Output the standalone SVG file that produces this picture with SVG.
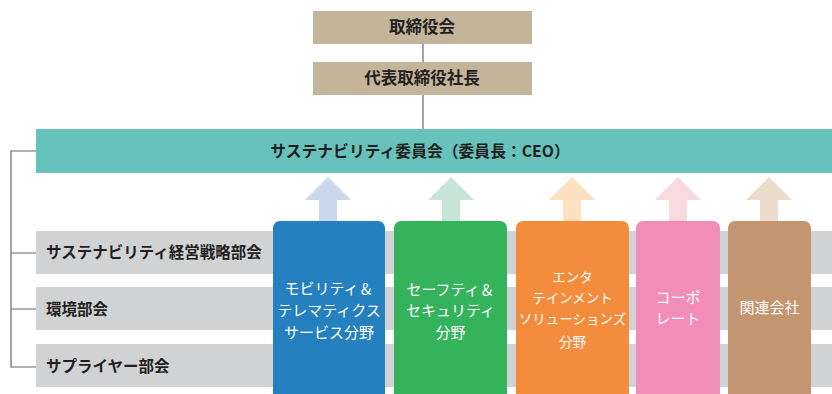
<svg xmlns="http://www.w3.org/2000/svg" width="832" height="394" viewBox="0 0 832 394">
<style>
.t{font-family:"Noto Sans CJK JP","Noto Sans",sans-serif;}
.hd{font-size:16.5px;font-weight:bold;fill:#231f20;text-anchor:middle;}
.lb{font-size:15.5px;font-weight:bold;fill:#231f20;}
.wt{font-size:15px;fill:#ffffff;text-anchor:middle;}
.ln{stroke:#666;stroke-width:1.2;fill:none;}
.bar{fill:#d1d2d4;}
</style>
<g id="connectors">
<path class="ln" d="M423 44V62M423 95V129"/>
<path class="ln" d="M36 151H11V367H36M11 253H36M11 309H36"/>
</g>
<g id="bars">
<rect class="bar" x="36" y="231" width="796" height="43"/>
<rect class="bar" x="36" y="287" width="796" height="43"/>
<rect class="bar" x="36" y="344" width="796" height="43"/>
</g>
<g id="board">
<rect x="313" y="11" width="219" height="33" fill="#c4b59a"/>
<text class="t hd" x="422" y="33">取締役会</text>
</g>
<g id="president">
<rect x="313" y="62" width="219" height="33" fill="#c4b59a"/>
<text class="t hd" x="422" y="84">代表取締役社長</text>
</g>
<g id="committee">
<rect x="36" y="129" width="796" height="44" fill="#67c2bc"/>
<text class="t hd" x="420" y="157" style="font-size:15.8px">サステナビリティ委員会（委員長：CEO）</text>
</g>
<g id="sub1"><text class="t lb" x="46" y="258">サステナビリティ経営戦略部会</text></g>
<g id="sub2"><text class="t lb" x="46" y="315">環境部会</text></g>
<g id="sub3"><text class="t lb" x="46" y="372">サプライヤー部会</text></g>
<g id="arrows">
<path d="M328 177L351 200H337V221H319V200H305Z" fill="#cbd7ea"/>
<path d="M451 177L474 200H460V221H442V200H428Z" fill="#c6e5d8"/>
<path d="M572 177L595 200H581V221H563V200H549Z" fill="#fde0c0"/>
<path d="M678 177L701 200H687V221H669V200H655Z" fill="#f9dade"/>
<path d="M769 177L792 200H778V221H760V200H746Z" fill="#ecdccc"/>
</g>
<g id="mobility">
<rect x="273" y="221" width="112" height="180" rx="7" fill="#2580c0"/>
<text class="t wt" x="329" y="294">モビリティ＆</text>
<text class="t wt" x="329" y="316">テレマティクス</text>
<text class="t wt" x="329" y="338">サービス分野</text>
</g>
<g id="safety">
<rect x="394" y="221" width="113" height="180" rx="7" fill="#35b35c"/>
<text class="t wt" x="450.5" y="295">セーフティ＆</text>
<text class="t wt" x="450.5" y="316">セキュリティ</text>
<text class="t wt" x="450.5" y="338">分野</text>
</g>
<g id="entertainment">
<rect x="516" y="221" width="113" height="180" rx="7" fill="#f48c3e"/>
<text class="t wt" x="572.5" y="282" style="font-size:13.5px">エンタ</text>
<text class="t wt" x="572.5" y="303" style="font-size:13.5px">テインメント</text>
<text class="t wt" x="572.5" y="324" style="font-size:13.5px">ソリューションズ</text>
<text class="t wt" x="572.5" y="347" style="font-size:13.5px">分野</text>
</g>
<g id="corporate">
<rect x="636" y="221" width="84" height="180" rx="7" fill="#f28cb8"/>
<text class="t wt" x="678" y="303">コーポ</text>
<text class="t wt" x="678" y="324">レート</text>
</g>
<g id="affiliates">
<rect x="728" y="221" width="83" height="180" rx="7" fill="#c49670"/>
<text class="t wt" x="769.5" y="313">関連会社</text>
</g>
</svg>
